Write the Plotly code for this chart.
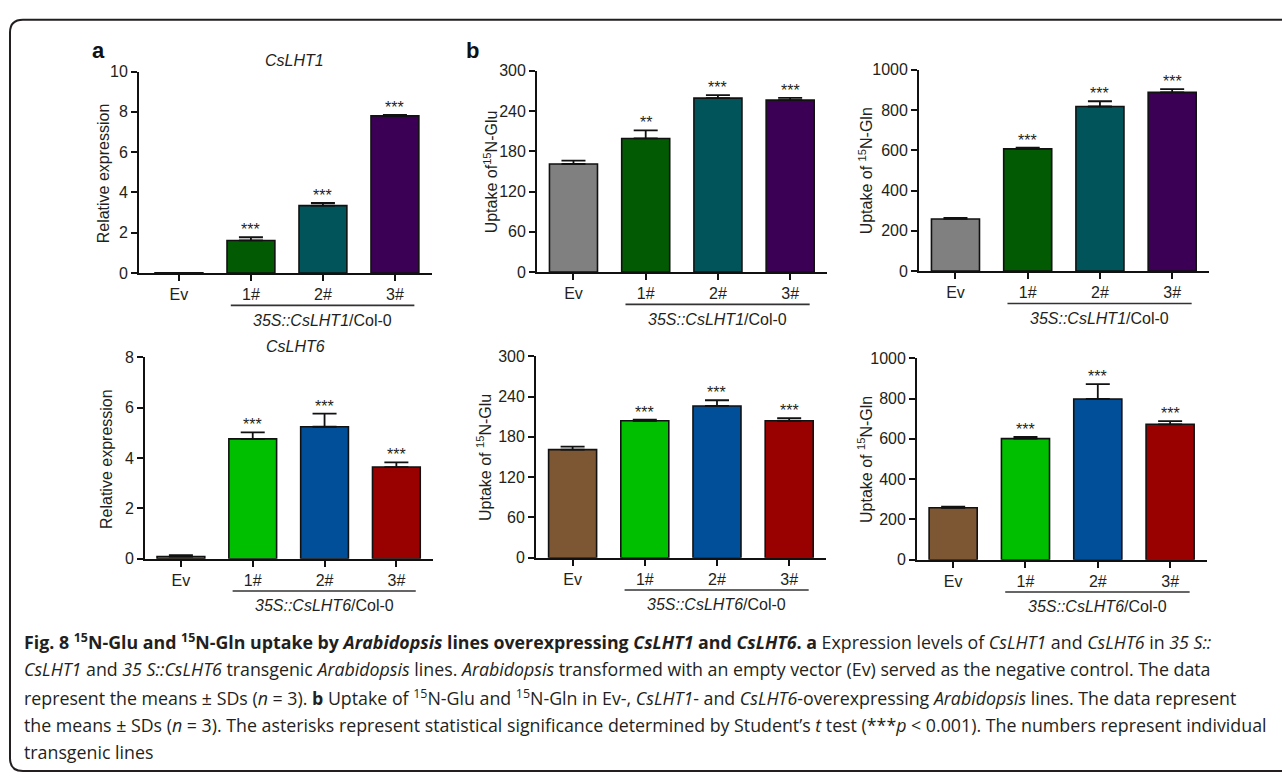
import plotly.graph_objects as go

W, H = 1282, 782

categories = ["Ev", "1#", "2#", "3#"]

# Panel a (relative expression)
a1_vals = [0.01, 1.62, 3.35, 7.80]
a1_err = [0.0, 0.16, 0.13, 0.05]
a1_sig = ["", "***", "***", "***"]
a6_vals = [0.09, 4.76, 5.24, 3.64]
a6_err = [0.05, 0.26, 0.52, 0.19]
a6_sig = ["", "***", "***", "***"]

# Panel b (uptake)
glu1_vals = [161, 199, 259, 256]
glu1_err = [5, 12, 4.5, 3.5]
glu1_sig = ["", "**", "***", "***"]
gln1_vals = [259, 607, 817, 887]
gln1_err = [5, 6, 26, 16]
gln1_sig = ["", "***", "***", "***"]
glu6_vals = [161, 204, 226, 204]
glu6_err = [4.5, 1.5, 8.5, 4]
glu6_sig = ["", "***", "***", "***"]
gln6_vals = [258, 601, 798, 672]
gln6_err = [5, 8, 73, 16]
gln6_sig = ["", "***", "***", "***"]

colors_top = ["#808080", "#025a02", "#01555a", "#3b0055"]
colors_bot = ["#7d5733", "#00bf00", "#004f98", "#990000"]

FONT = "Liberation Sans, Arial, sans-serif"
DARK = "#231f20"

def px_x(v):
    return v / W

def px_y(v):
    return 1 - v / H

# name, vals, err, sig, colors, (left,right,top,bottom) px, ymax, dtick, ytitle, title-x, group label, xrange-left, title
panels = [
    ("a1", a1_vals, a1_err, a1_sig, colors_top, (139, 432, 65, 271), 10, 2,
     "Relative expression", 103, "<i>35S::CsLHT1</i>/Col-0", -0.555, "<i>CsLHT1</i>"),
    ("g1", glu1_vals, glu1_err, glu1_sig, colors_top, (537, 827, 64, 270), 300, 60,
     "Uptake of<sup>15</sup>N-Glu", 491, "<i>35S::CsLHT1</i>/Col-0", -0.505, None),
    ("n1", gln1_vals, gln1_err, gln1_sig, colors_top, (919, 1209, 63, 269), 1000, 200,
     "Uptake of <sup>15</sup>N-Gln", 866, "<i>35S::CsLHT1</i>/Col-0", -0.505, None),
    ("a6", a6_vals, a6_err, a6_sig, colors_bot, (145, 433, 357, 563), 8, 2,
     "Relative expression", 107, "<i>35S::CsLHT6</i>/Col-0", -0.5, "<i>CsLHT6</i>"),
    ("g6", glu6_vals, glu6_err, glu6_sig, colors_bot, (536, 826, 356, 562), 300, 60,
     "Uptake of <sup>15</sup>N-Glu", 484, "<i>35S::CsLHT6</i>/Col-0", -0.507, None),
    ("n6", gln6_vals, gln6_err, gln6_sig, colors_bot, (917, 1207, 358, 564), 1000, 200,
     "Uptake of <sup>15</sup>N-Gln", 865, "<i>35S::CsLHT6</i>/Col-0", -0.5, None),
]

fig = go.Figure()
annotations = []
shapes = []
layout = {}

for i, (name, vals, err, sig, cols, box, ymax, dtick, ytitle, ytx, grp, xl, ttl) in enumerate(panels):
    n = i + 1
    xs = "" if n == 1 else str(n)
    l, r, t, b = box
    fig.add_trace(go.Bar(
        x=categories, y=vals, xaxis="x" + xs, yaxis="y" + xs,
        marker=dict(color=cols, line=dict(color="#111111", width=1.6)),
        width=0.665,
        error_y=dict(type="data", symmetric=False, array=err,
                     arrayminus=[0] * len(err), color="#111111",
                     thickness=1.8, width=12),
        showlegend=False, hoverinfo="skip",
    ))
    layout["xaxis" + xs] = dict(
        domain=[px_x(l), px_x(r)], anchor="y" + xs,
        type="category", categoryorder="array", categoryarray=categories,
        range=[xl, 3.5 + (0.01 if n != 1 else 0.015)],
        showline=True, linecolor="#111111", linewidth=1.8,
        ticks="outside", ticklen=6, tickwidth=1.8, tickcolor="#111111",
        tickfont=dict(family=FONT, size=16, color=DARK),
        showgrid=False, zeroline=False, fixedrange=True,
    )
    layout["yaxis" + xs] = dict(
        domain=[px_y(b), px_y(t)], anchor="x" + xs,
        range=[0, ymax], tick0=0, dtick=dtick,
        showline=True, linecolor="#111111", linewidth=1.8,
        ticks="outside", ticklen=6, tickwidth=1.8, tickcolor="#111111",
        tickfont=dict(family=FONT, size=16, color=DARK),
        showgrid=False, zeroline=False, fixedrange=True,
    )
    # y title
    annotations.append(dict(
        text=ytitle, xref="paper", yref="paper",
        x=px_x(ytx), y=px_y((t + b) / 2 + 1), textangle=-90,
        showarrow=False, xanchor="center", yanchor="middle",
        font=dict(family=FONT, size=16, color=DARK),
    ))
    # significance stars
    for c, v, e, s in zip(categories, vals, err, sig):
        if s:
            annotations.append(dict(
                text=s, xref="x" + xs, yref="y" + xs, x=c, y=v + e,
                showarrow=False, xanchor="center", yanchor="bottom", yshift=-3,
                font=dict(family=FONT, size=16, color=DARK),
            ))
    # group underline and label
    shapes.append(dict(
        type="line", xref="x" + xs, yref="paper",
        x0=0.72, x1=3.27, y0=px_y(b + 33), y1=px_y(b + 33),
        line=dict(color="#333333", width=1.6),
    ))
    annotations.append(dict(
        text=grp, xref="x" + xs, yref="paper", x=2.0, y=px_y(b + 48),
        showarrow=False, xanchor="center", yanchor="middle",
        font=dict(family=FONT, size=16, color=DARK),
    ))
    if ttl:
        annotations.append(dict(
            text=ttl, xref="x" + xs, yref="paper", x=1.6, y=px_y(t - 11),
            showarrow=False, xanchor="center", yanchor="middle",
            font=dict(family=FONT, size=16, color=DARK),
        ))

# panel letters
for letter, lx in (("a", 98), ("b", 472)):
    annotations.append(dict(
        text="<b>" + letter + "</b>", xref="paper", yref="paper",
        x=px_x(lx), y=px_y(43), showarrow=False, xanchor="center", yanchor="middle",
        font=dict(family=FONT, size=22, color="#111111"),
    ))

caption_lines = [
    "<b>Fig. 8 <sup>15</sup>N-Glu and <sup>15</sup>N-Gln uptake by <i>Arabidopsis</i> lines overexpressing "
    "<i>CsLHT1</i> and <i>CsLHT6</i>. a</b> Expression levels of <i>CsLHT1</i> and <i>CsLHT6</i> in <i>35 S::</i>",
    "<i>CsLHT1</i> and <i>35 S::CsLHT6</i> transgenic <i>Arabidopsis</i> lines. <i>Arabidopsis</i> transformed "
    "with an empty vector (Ev) served as the negative control. The data",
    "represent the means ± SDs (<i>n</i> = 3). <b>b</b> Uptake of <sup>15</sup>N-Glu and <sup>15</sup>N-Gln in Ev-, "
    "<i>CsLHT1</i>- and <i>CsLHT6</i>-overexpressing <i>Arabidopsis</i> lines. The data represent",
    "the means ± SDs (<i>n</i> = 3). The asterisks represent statistical significance determined by Student’s "
    "<i>t</i> test (***<i>p</i> &lt; 0.001). The numbers represent individual",
    "transgenic lines",
]
caption_y = [648, 676, 705, 733, 761]
for txt, cy in zip(caption_lines, caption_y):
    annotations.append(dict(
        text=txt, xref="paper", yref="paper", x=px_x(22), y=px_y(cy),
        showarrow=False, xanchor="left", yanchor="middle",
        font=dict(family="Open Sans, sans-serif", size=17.8, color=DARK),
    ))

# rounded border
x0, y0, y1, rr = 10, 12, 780, 13
def P(x, y):
    return f"{x / W:.5f},{1 - y / H:.5f}"
path = (f"M {P(1400, y0)} L {P(x0 + rr, y0)} Q {P(x0, y0)} {P(x0, y0 + rr)} "
        f"L {P(x0, y1 - rr)} Q {P(x0, y1)} {P(x0 + rr, y1)} L {P(1400, y1)}")
shapes.append(dict(type="path", xref="paper", yref="paper", path=path,
                   line=dict(color=DARK, width=2)))

fig.update_layout(
    width=W, height=H, margin=dict(l=0, r=0, t=0, b=0),
    paper_bgcolor="white", plot_bgcolor="white",
    annotations=annotations, shapes=shapes, bargap=0.33,
    **layout,
)

fig.write_html("out.html", config={"displayModeBar": False})
